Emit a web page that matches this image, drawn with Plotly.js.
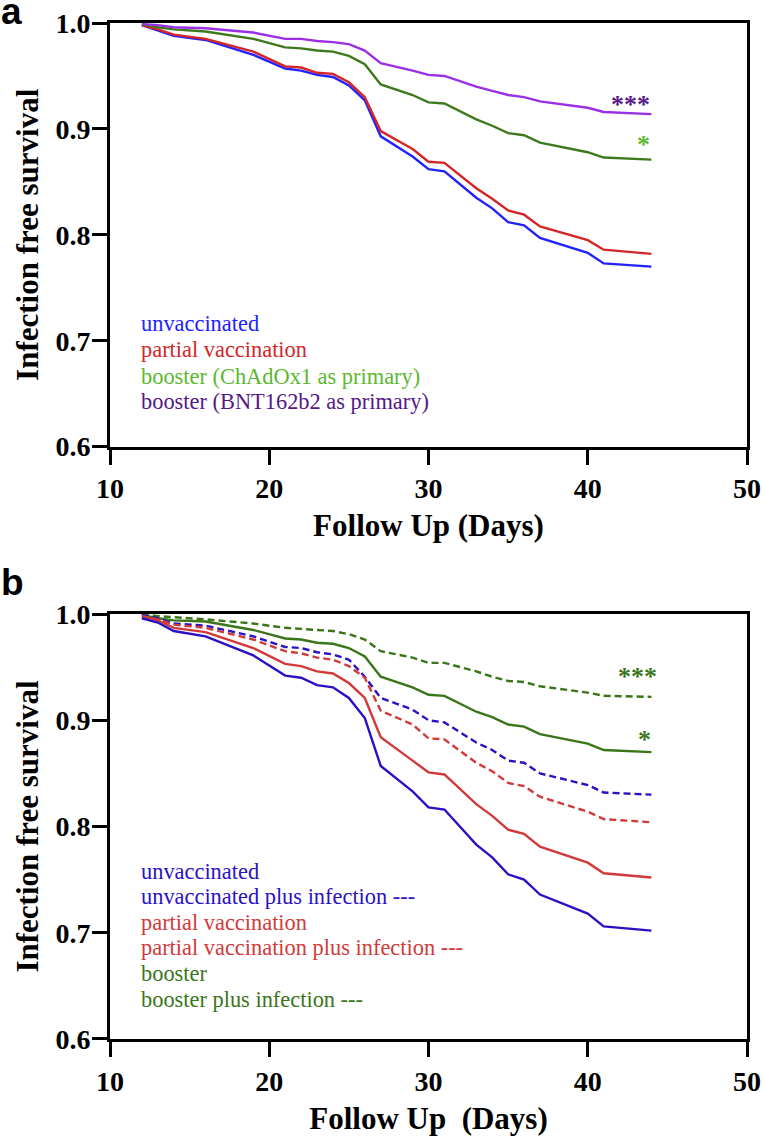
<!DOCTYPE html>
<html>
<head>
<meta charset="utf-8">
<script src="https://cdn.plot.ly/plotly-3.0.1.min.js"></script>
<style>html,body{margin:0;padding:0;background:#fff;}#chart{width:763px;height:1140px;}</style>
</head>
<body>
<div id="chart"></div>
<script>
// ---- data ----
const daysA = [12,13,14,16,19,21,22,23,24,25,26,27,29,30,31,33,34,35,36,37,40,41,44];
const unvaccA  = [0.998,0.993,0.988,0.984,0.970,0.957,0.955,0.951,0.949,0.941,0.927,0.893,0.874,0.862,0.860,0.835,0.825,0.812,0.809,0.797,0.783,0.773,0.770];
const partialA = [0.998,0.994,0.989,0.985,0.973,0.959,0.958,0.953,0.952,0.944,0.930,0.898,0.881,0.869,0.868,0.844,0.834,0.823,0.819,0.808,0.795,0.786,0.782];
const chadA    = [0.999,0.996,0.994,0.992,0.985,0.977,0.976,0.974,0.973,0.969,0.961,0.942,0.932,0.925,0.924,0.909,0.903,0.896,0.894,0.887,0.878,0.873,0.871];
const bntA     = [0.999,0.998,0.996,0.995,0.991,0.985,0.985,0.983,0.982,0.980,0.974,0.962,0.955,0.951,0.950,0.940,0.936,0.932,0.930,0.926,0.920,0.916,0.914];

const daysB = [12,13,14,16,19,21,22,23,24,25,26,27,29,30,31,33,34,35,36,37,40,41,44];
const unvaccB      = [0.996,0.992,0.984,0.979,0.961,0.942,0.940,0.933,0.931,0.921,0.902,0.857,0.833,0.818,0.816,0.783,0.771,0.755,0.750,0.736,0.718,0.706,0.702];
const unvaccInfB   = [0.999,0.996,0.991,0.989,0.979,0.969,0.968,0.964,0.962,0.957,0.941,0.921,0.910,0.900,0.898,0.879,0.872,0.862,0.860,0.850,0.839,0.832,0.830];
const partialB     = [0.998,0.994,0.987,0.983,0.968,0.953,0.951,0.946,0.944,0.935,0.921,0.884,0.862,0.851,0.849,0.821,0.810,0.797,0.793,0.781,0.766,0.756,0.752];
const partialInfB  = [0.998,0.995,0.990,0.987,0.976,0.965,0.963,0.959,0.957,0.951,0.940,0.909,0.896,0.883,0.882,0.860,0.852,0.841,0.838,0.828,0.814,0.807,0.804];
const boosterB     = [0.999,0.996,0.994,0.993,0.985,0.977,0.976,0.973,0.972,0.968,0.960,0.941,0.931,0.924,0.923,0.908,0.903,0.896,0.894,0.887,0.878,0.872,0.870];
const boosterInfB  = [1.000,0.998,0.997,0.995,0.991,0.987,0.986,0.985,0.984,0.981,0.976,0.965,0.959,0.954,0.954,0.946,0.941,0.937,0.936,0.932,0.926,0.923,0.922];

const labelsA = ["unvaccinated","partial vaccination","booster (ChAdOx1 as primary)","booster (BNT162b2 as primary)"];
const labelsB = ["unvaccinated","unvaccinated plus infection ---","partial vaccination","partial vaccination plus infection ---","booster","booster plus infection ---"];
const xTicks = [10,20,30,40,50];
const yTicks = [0.6,0.7,0.8,0.9,1.0];

// ---- styles ----
const cBlueA='#2222ff', cRedA='#d42626', cGreenA='#3e7a1c', cPurpleA='#9a30e6';
const tGreenA='#5cb82e', tPurpleA='#561888';
const cBlueB='#2a12c4', cRedB='#d23a3a', cGreenB='#3b7519';
const serif='Liberation Serif';
const sans='Liberation Sans';
const LW=2.4;

function line(x,y,color,xa,ya,dash){
  return {x:x,y:y,type:'scatter',mode:'lines',xaxis:xa,yaxis:ya,showlegend:false,hoverinfo:'skip',
    line:{color:color,width:LW,dash:dash||'solid',shape:'linear'}};
}
const traces=[
  line(daysA,unvaccA,cBlueA,'x','y'),
  line(daysA,partialA,cRedA,'x','y'),
  line(daysA,chadA,cGreenA,'x','y'),
  line(daysA,bntA,cPurpleA,'x','y'),
  line(daysB,boosterInfB,cGreenB,'x2','y2','7px,4px'),
  line(daysB,boosterB,cGreenB,'x2','y2'),
  line(daysB,unvaccInfB,cBlueB,'x2','y2','7px,4px'),
  line(daysB,partialInfB,cRedB,'x2','y2','7px,4px'),
  line(daysB,partialB,cRedB,'x2','y2'),
  line(daysB,unvaccB,cBlueB,'x2','y2')
];

function xax(anchor,title){
  return {anchor:anchor,range:[10,50],tickvals:xTicks,ticktext:xTicks.map(String),ticks:'outside',ticklen:15,tickwidth:3,
    tickcolor:'#000',showline:true,linewidth:3,linecolor:'#000',mirror:true,showgrid:false,zeroline:false,
    tickfont:{family:serif,size:28,color:'#000',weight:'bold'},
    title:{text:title,font:{family:serif,size:31,color:'#000',weight:'bold'},standoff:12},fixedrange:true};
}
function yax(anchor,domain){
  return {anchor:anchor,domain:domain,range:[0.6,1.0],tickvals:yTicks,ticktext:yTicks.map(v=>v.toFixed(1)),ticks:'outside',ticklen:15,tickwidth:3,
    tickcolor:'#000',showline:true,linewidth:3,linecolor:'#000',mirror:true,showgrid:false,zeroline:false,
    ticklabelstandoff:-4,
    tickfont:{family:serif,size:28,color:'#000',weight:'bold'},
    title:{text:'Infection free survival',font:{family:serif,size:31,color:'#000',weight:'bold'},standoff:8},fixedrange:true};
}

const ann=[];
const colA=[cBlueA,cRedA,tGreenA,tPurpleA];
const yA=[0.7167,0.6913,0.6667,0.6427];
labelsA.forEach((t,i)=>ann.push({text:t,x:11.82,y:yA[i],xref:'x',yref:'y',xanchor:'left',yanchor:'middle',showarrow:false,
  font:{family:serif,size:22.4,color:colA[i]}}));
const colB=[cBlueB,cBlueB,cRedB,cRedB,cGreenB,cGreenB];
const yB=[0.758,0.734,0.710,0.686,0.662,0.6375];
labelsB.forEach((t,i)=>ann.push({text:t,x:11.82,y:yB[i],xref:'x2',yref:'y2',xanchor:'left',yanchor:'middle',showarrow:false,
  font:{family:serif,size:22.4,color:colB[i]}}));
// significance marks
ann.push({text:'***',x:44.05,y:0.923,xref:'x',yref:'y',xanchor:'right',yanchor:'middle',showarrow:false,font:{family:serif,size:26,color:tPurpleA,weight:'bold'}});
ann.push({text:'*',x:44.05,y:0.885,xref:'x',yref:'y',xanchor:'right',yanchor:'middle',showarrow:false,font:{family:serif,size:26,color:tGreenA,weight:'bold'}});
ann.push({text:'***',x:44.5,y:0.941,xref:'x2',yref:'y2',xanchor:'right',yanchor:'middle',showarrow:false,font:{family:serif,size:26,color:cGreenB,weight:'bold'}});
ann.push({text:'*',x:44.08,y:0.882,xref:'x2',yref:'y2',xanchor:'right',yanchor:'middle',showarrow:false,font:{family:serif,size:26,color:cGreenB,weight:'bold'}});
// panel letters
ann.push({text:'a',x:-0.174,y:1.0115,xref:'paper',yref:'paper',xanchor:'left',yanchor:'middle',showarrow:false,font:{family:sans,size:37,color:'#000',weight:'bold'}});
ann.push({text:'b',x:-0.174,y:0.4493,xref:'paper',yref:'paper',xanchor:'left',yanchor:'middle',showarrow:false,font:{family:sans,size:37,color:'#000',weight:'bold'}});

const layout={
  width:763,height:1140,margin:{l:110,r:16,t:23,b:101},paper_bgcolor:'#fff',plot_bgcolor:'#fff',
  showlegend:false,
  xaxis:xax('y','Follow Up (Days)'),
  yaxis:yax('x',[0.583,1]),
  xaxis2:xax('y2','Follow Up\u00a0 (Days)'),
  yaxis2:yax('x2',[0,0.4183]),
  annotations:ann
};
Plotly.newPlot('chart',traces,layout,{staticPlot:true,displayModeBar:false});
</script>
</body>
</html>
